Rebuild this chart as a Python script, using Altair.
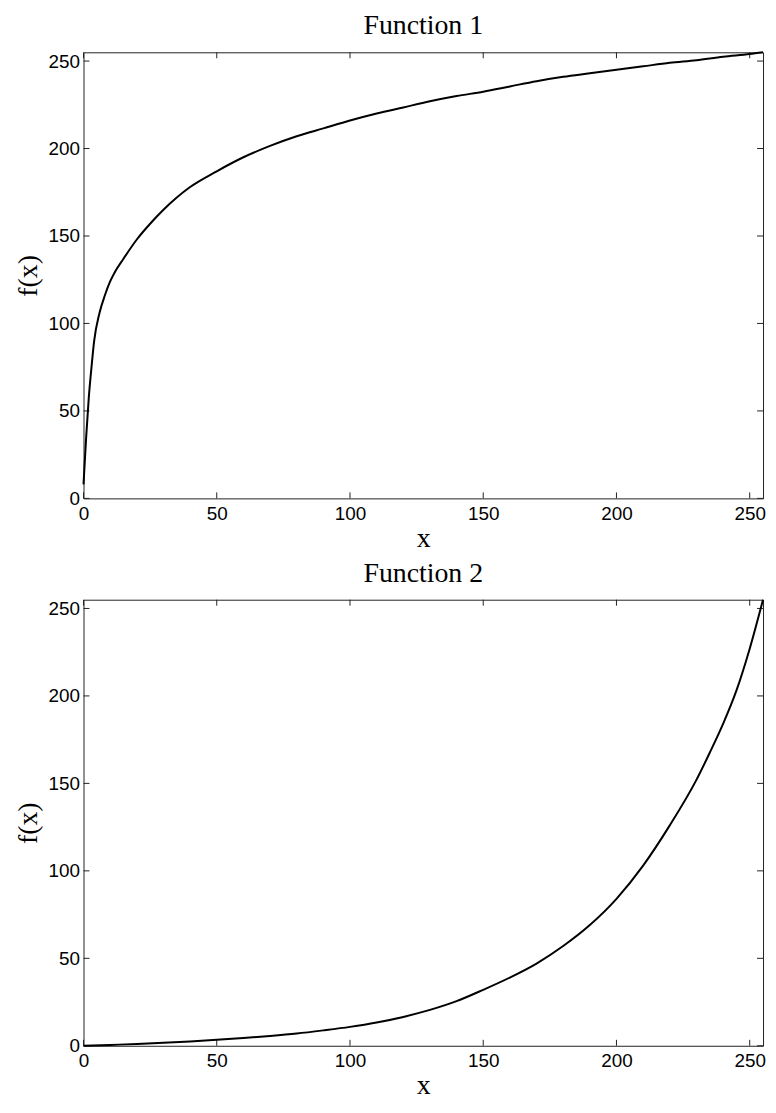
import altair as alt
import pandas as pd

# ---- data ----
f1_x = [0, 1, 2, 3, 4, 6, 8, 10, 12, 15, 20, 25, 30, 35, 40, 50, 60, 70, 80, 90,
        100, 110, 120, 130, 140, 150, 160, 170, 180, 190, 200, 210, 220, 230, 240, 250, 255]
f1_y = [8, 35, 58, 75, 90, 106, 116, 124, 130, 137, 148, 157, 165, 172, 178, 187, 195, 201.5, 207, 211.5,
        216, 220, 223.5, 227, 230, 232.5, 235.5, 238.5, 241, 243, 245, 247, 249, 250.5, 252.5, 254, 255]

f2_x = [0, 10, 20, 30, 40, 50, 60, 70, 80, 90, 100, 110, 120, 130, 140, 150, 160, 170, 180, 190,
        200, 210, 220, 230, 235, 240, 245, 250, 255]
f2_y = [0, 0.5, 1, 1.7, 2.5, 3.4, 4.4, 5.6, 7, 8.8, 10.8, 13.3, 16.5, 20.5, 25.5, 32, 39, 47, 57, 69,
        84, 103, 126, 152, 167.5, 184, 203, 227, 255]

tick_vals = [0, 50, 100, 150, 200, 250]
titles = ["Function 1", "Function 2"]
x_title = "x"
y_title = "f(x)"

W, H = 684, 449
TL = 6  # inward tick length


def panel(xs, ys, title):
    df = pd.DataFrame({"x": xs, "y": ys})
    xt = pd.DataFrame({"x": tick_vals})
    yt = pd.DataFrame({"y": tick_vals})

    xscale = alt.Scale(domain=[0, 255], nice=False, zero=False)
    yscale = alt.Scale(domain=[0, 255], nice=False, zero=False)

    xaxis = alt.Axis(values=tick_vals, ticks=False, grid=False, domain=False,
                     labelFont="Liberation Sans", labelFontSize=19, labelColor="black",
                     labelPadding=6, labelFlush=False,
                     title=x_title, titleFont="Liberation Serif", titleFontSize=28,
                     titleFontWeight="normal", titleColor="black", titlePadding=1)
    yaxis = alt.Axis(values=tick_vals, ticks=False, grid=False, domain=False,
                     labelFont="Liberation Sans", labelFontSize=19, labelColor="black",
                     labelPadding=4, labelFlush=False,
                     title=y_title, titleFont="Liberation Serif", titleFontSize=28,
                     titleFontWeight="normal", titleColor="black", titlePadding=6)

    x_enc = alt.X("x:Q", scale=xscale, axis=xaxis)
    y_enc = alt.Y("y:Q", scale=yscale, axis=yaxis)

    line = alt.Chart(df).mark_line(color="black", strokeWidth=2, interpolate="monotone").encode(
        x=x_enc, y=y_enc)

    tick_style = dict(color="#222222", strokeWidth=1)
    bt = alt.Chart(xt).mark_rule(**tick_style).encode(x=x_enc, y=alt.value(H), y2=alt.value(H - TL))
    tt = alt.Chart(xt).mark_rule(**tick_style).encode(x=x_enc, y=alt.value(0), y2=alt.value(TL))
    lt = alt.Chart(yt).mark_rule(**tick_style).encode(y=y_enc, x=alt.value(0), x2=alt.value(TL))
    rt = alt.Chart(yt).mark_rule(**tick_style).encode(y=y_enc, x=alt.value(W), x2=alt.value(W - TL))

    return alt.layer(bt, tt, lt, rt, line).properties(
        width=W, height=H,
        title=alt.TitleParams(title, font="Liberation Serif", fontSize=28, fontWeight="normal",
                              color="black", anchor="middle", baseline="alphabetic", offset=-14),
    )


chart = alt.vconcat(
    panel(f1_x, f1_y, titles[0]),
    panel(f2_x, f2_y, titles[1]),
    spacing=6,
).properties(
    padding={"left": 5, "top": 0, "right": 0, "bottom": 0},
    background="white",
).configure_view(
    stroke="#222222", strokeWidth=1
)

chart.save("out.html", embed_options={"renderer": "svg", "actions": False})
